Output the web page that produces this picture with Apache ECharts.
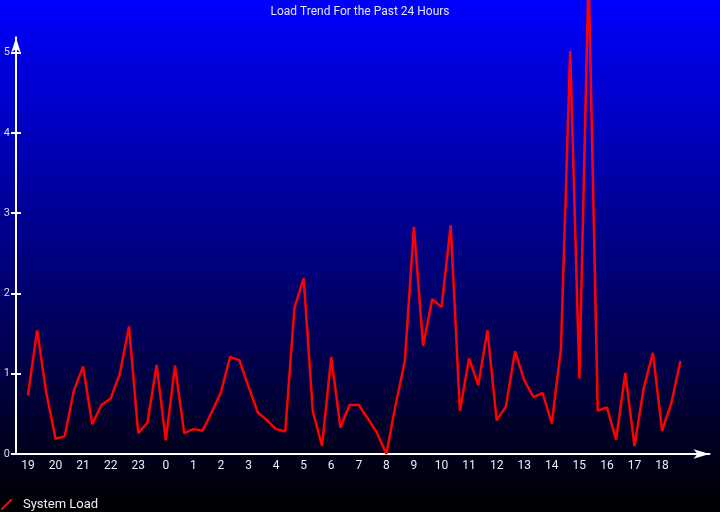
<!DOCTYPE html>
<html>
<head>
<meta charset="utf-8">
<script src="https://cdn.jsdelivr.net/npm/echarts@6/dist/echarts.min.js"></script>
<style>
  html, body { margin: 0; padding: 0; }
  #load-trend { width: 720px; height: 512px; }
</style>
</head>
<body>
<div id="load-trend"></div>
<script>
// hour labels along the x axis, one per 3 samples
const hourLabels = ['19', '20', '21', '22', '23', '0', '1', '2', '3', '4', '5', '6',
  '7', '8', '9', '10', '11', '12', '13', '14', '15', '16', '17', '18']
// load samples, every 20 minutes
const loadValues = [
  0.73, 1.54, 0.76, 0.19, 0.22, 0.79, 1.09, 0.37, 0.61, 0.69, 1.00, 1.59,
  0.26, 0.39, 1.11, 0.17, 1.10, 0.26, 0.31, 0.29, 0.52, 0.77, 1.21, 1.17,
  0.84, 0.52, 0.42, 0.31, 0.28, 1.82, 2.19, 0.53, 0.10, 1.21, 0.33, 0.61,
  0.61, 0.44, 0.26, 0.00, 0.61, 1.15, 2.83, 1.35, 1.93, 1.83, 2.85, 0.54,
  1.19, 0.86, 1.54, 0.42, 0.59, 1.28, 0.92, 0.71, 0.76, 0.38, 1.32, 5.02,
  0.94, 6.00, 0.54, 0.58, 0.18, 1.01, 0.10, 0.82, 1.26, 0.29, 0.63, 1.16
]
const yTicks = [0, 1, 2, 3, 4, 5]
const seriesName = 'System Load'

const xTicks = hourLabels.map((h, i) => i * 3)
const yMax = 5.19
const chart = echarts.init(document.getElementById('load-trend'))
chart.setOption({
  animation: false,
  backgroundColor: {
    type: 'linear', x: 0, y: 0, x2: 0, y2: 1,
    colorStops: [{ offset: 0, color: '#0000ff' }, { offset: 1, color: '#000000' }]
  },
  textStyle: { fontFamily: 'Roboto' },
  title: {
    text: 'Load Trend For the Past 24 Hours',
    left: 'center',
    top: 1,
    textStyle: { color: '#e4e4ff', fontSize: 12, fontWeight: 'normal', fontFamily: 'Roboto' }
  },
  legend: {
    data: [seriesName],
    left: 1,
    top: 498,
    padding: 0,
    itemWidth: 11,
    itemHeight: 12,
    icon: 'path://M0,12 L1.6,12 L12,1.6 L12,0 L10.4,0 L0,10.4 Z',
    formatter: '{a|{name}}',
    textStyle: {
      color: '#eeeeee',
      fontSize: 13,
      rich: { a: { padding: [0, 0, 0, 6], fontSize: 13, color: '#eeeeee' } }
    }
  },
  grid: { left: 16, right: 10.5, top: 37.5, bottom: 58 },
  xAxis: {
    type: 'value',
    min: -1.3,
    max: 74.16,
    splitLine: { show: false },
    axisLine: {
      onZero: false,
      symbol: ['none', 'arrow'],
      symbolSize: [7, 16],
      lineStyle: { color: '#ffffff', width: 2 }
    },
    axisTick: { show: false },
    axisLabel: {
      customValues: xTicks,
      formatter: v => hourLabels[Math.round(v / 3)],
      color: '#eeeeee',
      fontSize: 12,
      margin: 6
    }
  },
  yAxis: [{
    type: 'value',
    min: 0,
    max: yMax,
    splitLine: { show: false },
    axisLine: {
      show: true,
      onZero: false,
      symbol: ['none', 'arrow'],
      symbolSize: [7, 15],
      lineStyle: { color: '#ffffff', width: 2 }
    },
    axisTick: {
      show: true,
      length: 5,
      customValues: yTicks,
      lineStyle: { color: '#ffffff', width: 2 }
    },
    axisLabel: { customValues: yTicks, color: '#dcdcf0', fontSize: 11, margin: 6 }
  }, {
    type: 'value',
    position: 'left',
    min: 0,
    max: yMax,
    splitLine: { show: false },
    axisLine: { show: true, onZero: false, lineStyle: { color: '#ffffff', width: 2 } },
    axisTick: {
      show: true,
      inside: true,
      length: 5,
      customValues: yTicks,
      lineStyle: { color: '#ffffff', width: 2 }
    },
    axisLabel: { show: false }
  }],
  series: [{
    name: seriesName,
    type: 'line',
    data: loadValues.map((v, i) => [i, v]),
    showSymbol: false,
    clip: false,
    color: '#ff0000',
    lineStyle: { color: '#ff0000', width: 2.5 }
  }]
})
</script>
</body>
</html>
